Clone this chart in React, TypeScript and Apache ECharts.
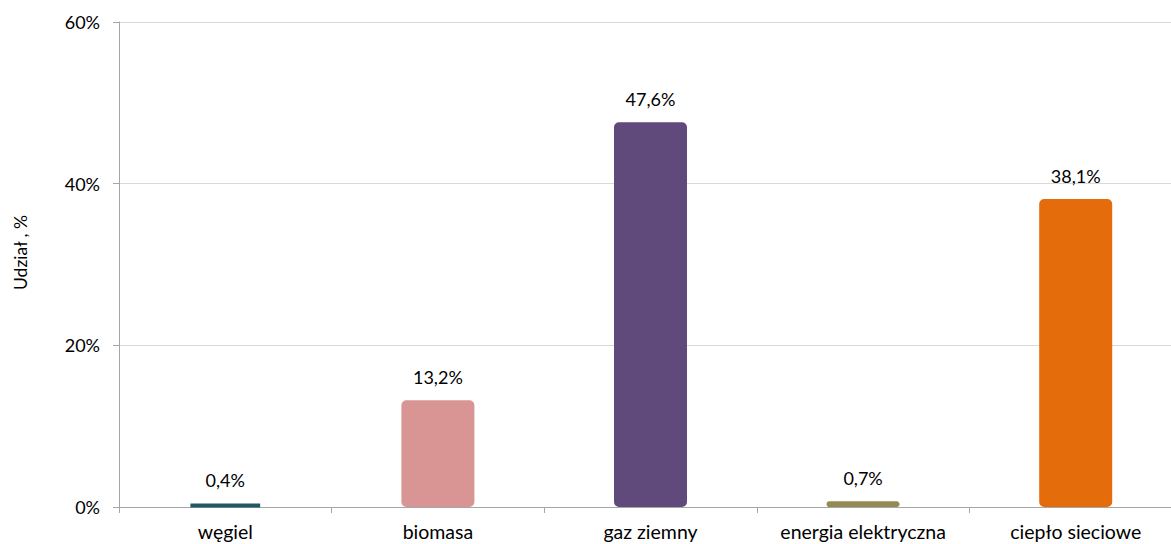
import React, { useEffect, useRef } from "react";
import * as echarts from "echarts";

const categories = ["węgiel", "biomasa", "gaz ziemny", "energia elektryczna", "ciepło sieciowe"];
const values = [0.4, 13.2, 47.6, 0.7, 38.1];
const colors = ["#215968", "#D99594", "#604A7B", "#948A54", "#E46C0A"];
const yTicks = [0, 20, 40, 60];

const FONT = "Lato, 'Open Sans', sans-serif";

export default function App() {
  const ref = useRef<HTMLDivElement>(null);
  useEffect(() => {
    if (!ref.current) return;
    const chart = echarts.init(ref.current, null, { renderer: "svg" });
    chart.setOption({
      animation: false,
      grid: { left: 119, width: 1063, top: 22, height: 485, outerBoundsMode: "none", containLabel: false },
      xAxis: {
        type: "category",
        data: categories,
        axisLine: { lineStyle: { color: "#a6a6a6", width: 1 } },
        axisTick: { show: true, length: 6, lineStyle: { color: "#a6a6a6" } },
        axisLabel: { color: "#000", fontSize: 19.5, fontFamily: FONT, margin: 14, interval: 0, hideOverlap: false },
      },
      yAxis: {
        type: "value",
        min: yTicks[0],
        max: yTicks[yTicks.length - 1],
        interval: 20,
        name: "Udział , %",
        nameLocation: "middle",
        nameGap: 90,
        nameTextStyle: { color: "#000", fontSize: 17.5, fontFamily: FONT, padding: [0, 0, 0, 24] },
        axisLine: { show: true, lineStyle: { color: "#a6a6a6" } },
        axisTick: { show: true, length: 6, inside: false, lineStyle: { color: "#a6a6a6" } },
        splitLine: { lineStyle: { color: "#d9d9d9" } },
        axisLabel: { color: "#000", fontSize: 18, fontFamily: FONT, margin: 19, formatter: "{value}%" },
      },
      series: [
        {
          type: "bar",
          barWidth: 73,
          data: values.map((v, i) => ({
            value: v,
            itemStyle: { color: colors[i], borderColor: colors[i], borderWidth: 4, borderRadius: 3 },
          })),
          label: {
            show: true,
            position: "top",
            distance: 14,
            color: "#000",
            fontSize: 18,
            fontFamily: FONT,
            formatter: (p: any) => String(p.value).replace(".", ",") + "%",
          },
        },
      ],
    });
    return () => chart.dispose();
  }, []);
  return <div ref={ref} style={{ width: 1171, height: 544, position: "absolute", left: 0, top: 0 }} />;
}
